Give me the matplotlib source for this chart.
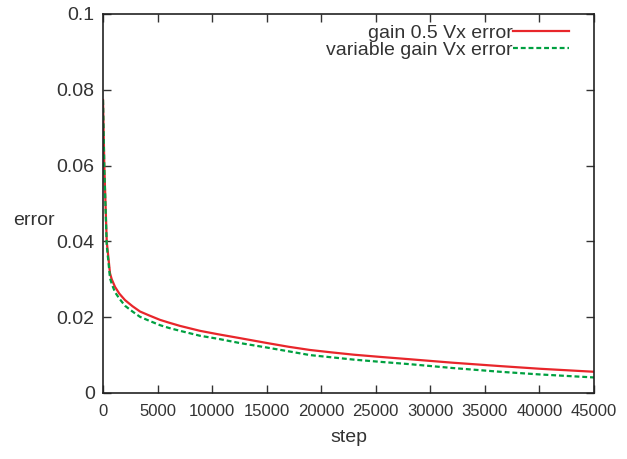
import matplotlib
matplotlib.use("Agg")
import matplotlib.pyplot as plt

# values
steps = [0, 120, 340, 500, 640, 800, 1100, 1500, 2020, 2700, 3390, 4200, 5220,
         6000, 7060, 8890, 10540, 12500, 15000, 17000, 18970, 21000, 23000,
         25500, 28140, 32000, 36390, 40000, 45000]
gain_half = [0.0773, 0.0597, 0.0400, 0.0355, 0.0316, 0.0300, 0.0280, 0.0262,
             0.0245, 0.0229, 0.0215, 0.0205, 0.0193, 0.0186, 0.0177, 0.0164,
             0.0155, 0.0145, 0.0132, 0.0122, 0.01135, 0.0107, 0.0101, 0.0095,
             0.0089, 0.0080, 0.0071, 0.0064, 0.0056]
gain_var = [0.0773, 0.0590, 0.0390, 0.0345, 0.0303, 0.0288, 0.0266, 0.0249,
            0.0230, 0.0215, 0.0201, 0.0191, 0.0179, 0.0172, 0.0164, 0.0151,
            0.0143, 0.0132, 0.0120, 0.0110, 0.0100, 0.0094, 0.0088, 0.0082,
            0.0076, 0.0066, 0.0056, 0.0049, 0.0041]

xticks = list(range(0, 45001, 5000))
yticks = [0, 0.02, 0.04, 0.06, 0.08, 0.1]
ytick_labels = ["0", "0.02", "0.04", "0.06", "0.08", "0.1"]

plt.rcParams['font.family'] = ['Liberation Sans', 'DejaVu Sans']
plt.rcParams['font.size'] = 14

fig = plt.figure(figsize=(6.27, 4.59), dpi=100)
ax = fig.add_axes([0.1643, 0.1438, 0.7831, 0.8257])

ax.plot(steps, gain_half, color='#e8262b', lw=1.6, label='gain 0.5 Vx error')
ax.plot(steps, gain_var, color='#00a040', lw=1.6, ls=(0, (2.2, 1.3)),
        label='variable gain Vx error')

ax.set_xlim(0, 45000)
ax.set_ylim(0, 0.1)
ax.set_xticks(xticks)
ax.set_xticklabels([str(t) for t in xticks], fontsize=12)
ax.set_yticks(yticks)
ax.set_yticklabels(ytick_labels, fontsize=14)
ax.tick_params(direction='in', top=True, right=True, length=6, width=1,
               colors='#333333', labelcolor='#333333', pad=6)
ax.tick_params(axis='x', pad=8)
for s in ax.spines.values():
    s.set_linewidth(1.2)
    s.set_color('#222222')

ax.set_xlabel('step', color='#333333', labelpad=7)
ax.set_ylabel('error', color='#333333', rotation=0, va='center', ha='center')
ax.yaxis.set_label_coords(-0.14, 0.455)

leg = ax.legend(loc='upper right', markerfirst=False, frameon=False,
                handlelength=2.9, handletextpad=0.0, borderaxespad=0.0,
                labelspacing=-0.05, bbox_to_anchor=(0.965, 0.993))
for t in leg.get_texts():
    t.set_color('#333333')
leg._legend_box.align = 'right'

fig.savefig('out.png', dpi=100)
